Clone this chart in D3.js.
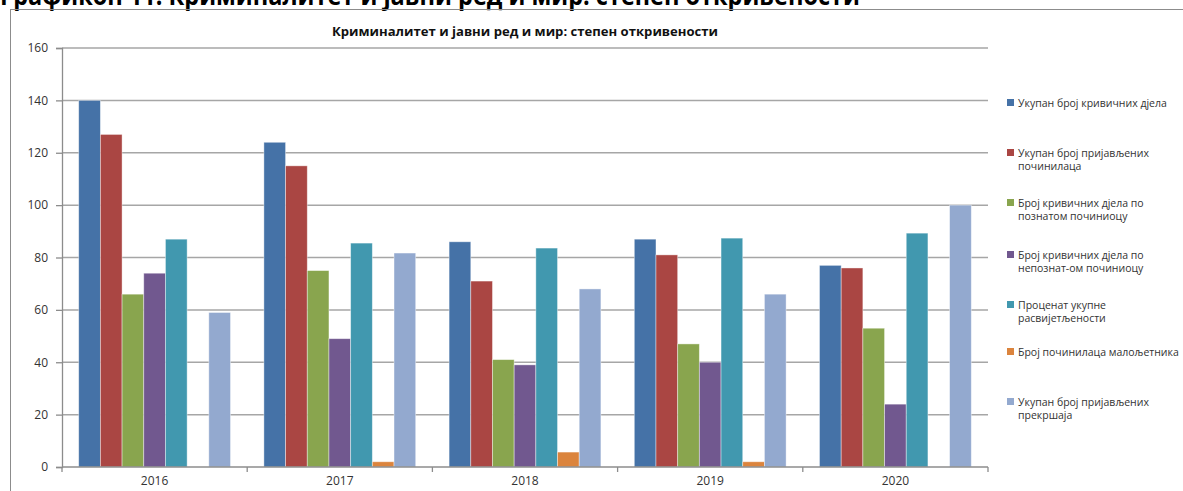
<!DOCTYPE html>
<html>
<head>
<meta charset="utf-8">
<script src="https://cdn.jsdelivr.net/npm/d3@7"></script>
<style>
body { margin:0; background:#fff; }
svg { display:block; font-family:"Open Sans", "Noto Sans", sans-serif; }
</style>
</head>
<body>
<div id="chart"></div>
<script>
var width = 1183;
var height = 491;

var margin = {left:62, right:195, top:48, bottom:24};

var years = ["2016","2017","2018","2019","2020"];

var seriesNames = [
  ["Укупан број кривичних дјела"],
  ["Укупан број пријављених", "починилаца"],
  ["Број кривичних дјела по", "познатом починиоцу"],
  ["Број кривичних дјела по", "непознат-ом починиоцу"],
  ["Проценат укупне", "расвијетљености"],
  ["Број починилаца малољетника"],
  ["Укупан број пријављених", "прекршаја"]
];

var colors = ["#4572a7","#aa4643","#89a54e","#71588f","#4198af","#db843d","#93a9cf"];

// one array per series, values per year
var totalCrimes     = [140, 124, 86, 87, 77];
var reportedPersons = [127, 115, 71, 81, 76];
var knownOffender   = [66, 75, 41, 47, 53];
var unknownOffender = [74, 49, 39, 40, 24];
var clearanceRate   = [87, 85.5, 83.6, 87.4, 89.3];
var juveniles       = [0, 2, 5.7, 2, 0];
var misdemeanors    = [59, 81.7, 68, 66, 100];

var yTicks = [0,20,40,60,80,100,120,140,160];

var series = [totalCrimes, reportedPersons, knownOffender, unknownOffender, clearanceRate, juveniles, misdemeanors];

var heading = "Графикон 11: Криминалитет и јавни ред и мир: степен откривености";
var title = "Криминалитет и јавни ред и мир: степен откривености";

var svg = d3.select("#chart").append("svg")
  .attr("width", width)
  .attr("height", height);

// page heading, cut off by the screenshot
svg.append("text")
  .attr("x", 0)
  .attr("y", 5)
  .attr("font-size", 26)
  .attr("font-weight", "bold")
  .attr("fill", "#000")
  .attr("textLength", 860)
  .attr("lengthAdjust", "spacingAndGlyphs")
  .text(heading);

// chart frame
svg.append("rect")
  .attr("x", 10.5).attr("y", 9.5)
  .attr("width", 1200).attr("height", 600)
  .attr("fill", "none")
  .attr("stroke", "#8c8c8c")
  .attr("stroke-width", 1);

svg.append("text")
  .attr("x", 525)
  .attr("y", 36)
  .attr("text-anchor", "middle")
  .attr("font-size", 12.5)
  .attr("font-weight", "bold")
  .attr("fill", "#111")
  .attr("textLength", 386)
  .attr("lengthAdjust", "spacingAndGlyphs")
  .text(title);

var plotW = width - margin.left - margin.right - 0;
var plotRight = 988;

var x0 = d3.scaleBand()
  .domain(years)
  .range([margin.left, plotRight])
  .padding(0);

var x1 = d3.scaleBand()
  .domain(d3.range(series.length))
  .range([0, x0.bandwidth()])
  .paddingInner(0)
  .paddingOuter(0.77);

var y = d3.scaleLinear()
  .domain([0,160])
  .range([height - margin.bottom, margin.top]);

// gridlines
svg.append("g")
  .selectAll("line")
  .data(yTicks.slice(1))
  .join("line")
  .attr("x1", margin.left)
  .attr("x2", plotRight)
  .attr("y1", function(d){ return y(d); })
  .attr("y2", function(d){ return y(d); })
  .attr("stroke", "#a6a6a6")
  .attr("stroke-width", 1.5);

// bars
var groups = svg.append("g")
  .selectAll("g")
  .data(years)
  .join("g")
  .attr("transform", function(d){ return "translate(" + x0(d) + ",0)"; });

groups.selectAll("rect")
  .data(function(d,i){ return series.map(function(s,j){ return {k:j, v:s[i]}; }); })
  .join("rect")
  .attr("x", function(d){ return x1(d.k); })
  .attr("width", x1.bandwidth())
  .attr("y", function(d){ return y(d.v); })
  .attr("height", function(d){ return y(0) - y(d.v); })
  .attr("fill", function(d){ return colors[d.k]; })
  .attr("stroke", function(d){ return d.v > 0 ? "rgba(255,255,255,0.5)" : "none"; })
  .attr("stroke-width", 0.8);

// y axis
var yAxis = d3.axisLeft(y)
  .tickValues(yTicks)
  .tickSize(6)
  .tickPadding(8);

var gy = svg.append("g")
  .attr("transform", "translate(" + margin.left + ",0)")
  .call(yAxis);
gy.select(".domain").attr("stroke", "#8c8c8c").attr("stroke-width", 1.3);
gy.selectAll(".tick line").attr("stroke", "#8c8c8c").attr("stroke-width", 1.3);
gy.selectAll(".tick text").attr("font-size", 12).attr("fill", "#333")
  .attr("font-family", "'Open Sans', sans-serif");

// x axis
var gx = svg.append("g")
  .attr("transform", "translate(0," + y(0) + ")");
gx.append("line")
  .attr("x1", margin.left).attr("x2", plotRight)
  .attr("stroke", "#8c8c8c").attr("stroke-width", 1.3);
gx.selectAll("line.tk")
  .data(years.concat(["end"]))
  .join("line")
  .attr("class", "tk")
  .attr("x1", function(d,i){ return i < years.length ? x0(d) : plotRight; })
  .attr("x2", function(d,i){ return i < years.length ? x0(d) : plotRight; })
  .attr("y1", 0).attr("y2", 5)
  .attr("stroke", "#8c8c8c").attr("stroke-width", 1.3);
gx.selectAll("text")
  .data(years)
  .join("text")
  .attr("x", function(d){ return x0(d) + x0.bandwidth()/2; })
  .attr("y", 18)
  .attr("text-anchor", "middle")
  .attr("font-size", 12)
  .attr("fill", "#333")
  .text(function(d){ return d; });

// legend
var legendY = [103, 153, 203, 255, 305, 352, 402];
var legend = svg.append("g")
  .selectAll("g")
  .data(seriesNames)
  .join("g")
  .attr("transform", function(d,i){ return "translate(1007," + legendY[i] + ")"; });

legend.append("rect")
  .attr("x", 0).attr("y", -4)
  .attr("width", 7).attr("height", 7)
  .attr("fill", function(d,i){ return colors[i]; });

legend.append("text")
  .attr("font-size", 10.5)
  .attr("fill", "#333")
  .selectAll("tspan")
  .data(function(d){ return d; })
  .join("tspan")
  .attr("x", 11)
  .attr("y", function(d,i){ return 3.5 + i*13; })
  .text(function(d){ return d; });
</script>
</body>
</html>
